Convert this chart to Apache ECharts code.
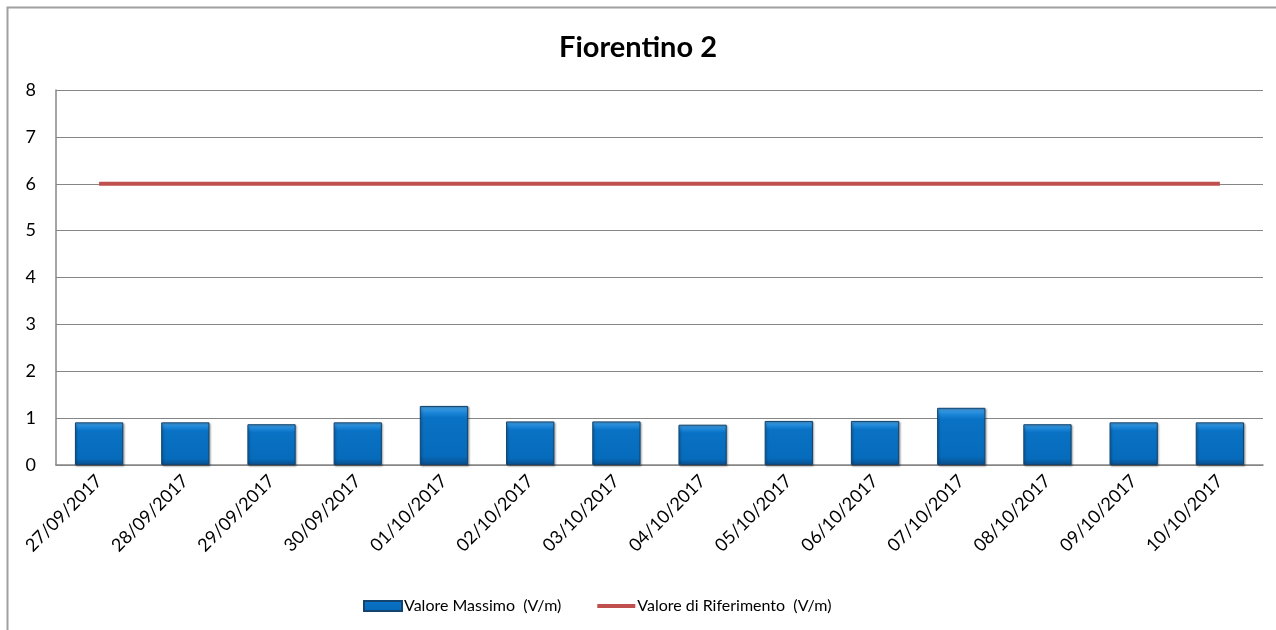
<!DOCTYPE html>
<html>
<head>
<meta charset="utf-8">
<script src="https://cdn.jsdelivr.net/npm/echarts@6/dist/echarts.min.js"></script>
<style>
  html, body { margin: 0; padding: 0; background: #fff; }
  #chart { width: 1276px; height: 630px; }
</style>
</head>
<body>
<div id="chart"></div>
<script>
// Daily measurement dates
const categories = [
  '27/09/2017', '28/09/2017', '29/09/2017', '30/09/2017', '01/10/2017',
  '02/10/2017', '03/10/2017', '04/10/2017', '05/10/2017', '06/10/2017',
  '07/10/2017', '08/10/2017', '09/10/2017', '10/10/2017'
];
// Maximum field value per day (V/m)
const valoreMassimo = [0.91, 0.91, 0.87, 0.91, 1.26, 0.93, 0.93, 0.86, 0.94, 0.94, 1.22, 0.87, 0.91, 0.91];
// Reference threshold (V/m)
const valoreRiferimento = [6, 6, 6, 6, 6, 6, 6, 6, 6, 6, 6, 6, 6, 6];
// Y axis ticks
const yTicks = [0, 1, 2, 3, 4, 5, 6, 7, 8];

const FONT = 'Lato, "Open Sans", sans-serif';
const chart = echarts.init(document.getElementById('chart'), null, { renderer: 'canvas' });

const barFill = new echarts.graphic.LinearGradient(0, 0, 0, 1, [
  { offset: 0, color: '#4aa6ea' },
  { offset: 0.12, color: '#1a84d6' },
  { offset: 0.2, color: '#0a72c4' },
  { offset: 0.85, color: '#066bbb' },
  { offset: 1, color: '#0a4f8c' }
]);

chart.setOption({
  animation: false,
  backgroundColor: '#ffffff',
  title: {
    text: 'Fiorentino 2',
    left: 'center',
    top: 28,
    textStyle: { fontFamily: FONT, fontSize: 29, fontWeight: 'bold', color: '#000' }
  },
  graphic: [{
    type: 'rect',
    shape: { x: 7.5, y: 7.5, width: 1300, height: 700 },
    style: { fill: 'none', stroke: '#a0a0a0', lineWidth: 2 },
    silent: true
  }],
  legend: {
    bottom: 11,
    left: 358,
    itemGap: 36,
    itemWidth: 38,
    itemHeight: 10,
    textStyle: { fontFamily: FONT, fontSize: 16, color: '#000', padding: [0, 0, 0, -3] },
    data: [
      { name: 'Valore Massimo  (V/m)', icon: 'rect' },
      { name: 'Valore di Riferimento  (V/m)', icon: 'path://M0,0 L40,0 L40,4 L0,4 Z' }
    ]
  },
  grid: { left: 56, right: 13, top: 90, bottom: 165, containLabel: false },
  xAxis: {
    type: 'category',
    data: categories,
    boundaryGap: true,
    axisLine: { show: true, lineStyle: { color: '#868686', width: 1.5 } },
    axisTick: { show: false },
    axisLabel: {
      rotate: 45,
      interval: 0,
      margin: 13,
      fontFamily: FONT,
      fontSize: 18,
      color: '#000'
    },
    splitLine: { show: false }
  },
  yAxis: {
    type: 'value',
    min: yTicks[0],
    max: yTicks[yTicks.length - 1],
    interval: 1,
    axisLine: { show: true, lineStyle: { color: '#868686', width: 1.5 } },
    axisTick: { show: false },
    axisLabel: { margin: 20, fontFamily: FONT, fontSize: 18, color: '#000' },
    splitLine: { show: true, lineStyle: { color: '#868686', width: 1.2 } }
  },
  series: [
    {
      name: 'Valore Massimo  (V/m)',
      type: 'bar',
      data: valoreMassimo,
      barWidth: '56%',
      itemStyle: {
        color: barFill,
        borderColor: '#12446f',
        borderWidth: 1,
        shadowColor: 'rgba(0,0,0,0.35)',
        shadowBlur: 2,
        shadowOffsetX: 1,
        shadowOffsetY: 1
      }
    },
    {
      name: 'Valore di Riferimento  (V/m)',
      type: 'line',
      data: valoreRiferimento,
      symbol: 'none',
      lineStyle: { color: '#C0504D', width: 4 },
      itemStyle: { color: '#C0504D' }
    }
  ]
});
</script>
</body>
</html>
